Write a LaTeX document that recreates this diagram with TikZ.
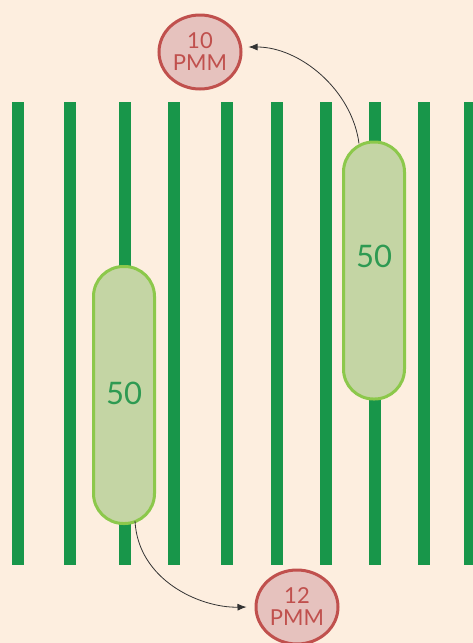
\documentclass[tikz,border=0pt]{standalone}
\usepackage{fontspec}
\setmainfont{Lato}
\usetikzlibrary{shapes.geometric,arrows.meta}
\definecolor{bg}{HTML}{FDEEDF}
\definecolor{bar}{HTML}{18964A}
\definecolor{capfill}{HTML}{C4D5A4}
\definecolor{capline}{HTML}{8CC84B}
\definecolor{captext}{HTML}{2E9A52}
\definecolor{pmmfill}{HTML}{E6C2BE}
\definecolor{pmmline}{HTML}{C0504D}
\tikzset{
  capsule/.style={draw=capline, line width=3pt, fill=capfill, rounded corners=30pt,
    minimum width=61pt, minimum height=257pt, inner sep=0pt},
  captxt/.style={text=captext, font=\fontsize{31}{33}\selectfont},
  pmm/.style={ellipse, draw=pmmline, line width=3pt, fill=pmmfill, minimum width=82pt,
    minimum height=74pt, inner sep=0pt, text=pmmline, align=center,
    font=\fontsize{22}{26}\selectfont},
  link/.style={draw=black!80, line width=0.8pt, -{Latex[length=9pt,width=7pt]}},
  barline/.style={fill=bar}
}
\begin{document}
\begin{tikzpicture}[x=1pt,y=-1pt]
\fill[bg] (0,0) rectangle (473,643);
\useasboundingbox (0,0) rectangle (473,643);
\foreach \x in {18,70,125,174,227,277,326,375,424,470}{
  \fill[barline] ({\x-6.3},102) rectangle ({\x+6.3},565);
}
\node[capsule] (capL) at (124,395) {};
\node[captxt] (txtL) at (124,393) {50};
\node[capsule] (capR) at (374,270.5) {};
\node[captxt] (txtR) at (374,256) {50};
\node[pmm] (pA) at (200,52) {10\\[-4pt]PMM};
\node[pmm] (pB) at (297,607) {12\\[-4pt]PMM};
\coordinate (sA) at ([xshift=-15pt,yshift=-3pt]capR.north);
\coordinate (eA) at ([xshift=6pt,yshift=5pt]pA.east);
\coordinate (sB) at ([xshift=11pt,yshift=4pt]capL.south);
\coordinate (eB) at ([xshift=-8pt]pB.west);
\draw[link] (sA) .. controls (352,90) and (300,47) .. (eA);
\draw[link] (sB) .. controls (138,580) and (200,608) .. (eB);
\end{tikzpicture}
\end{document}
